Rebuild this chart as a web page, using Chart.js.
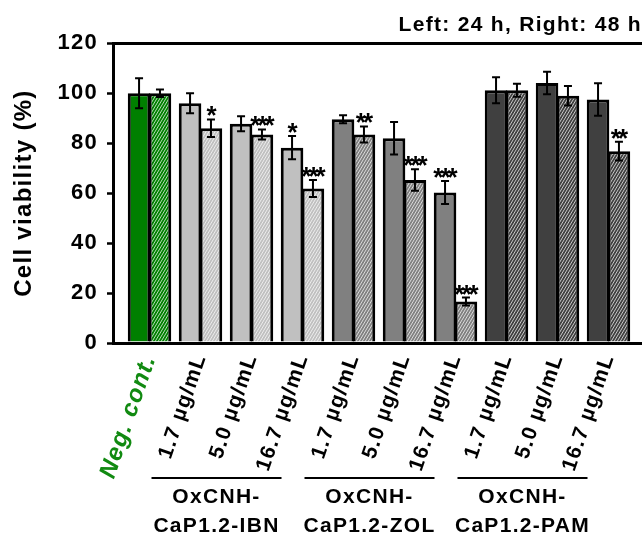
<!DOCTYPE html>
<html lang="en">
<head>
    <meta charset="UTF-8">
    <title>Cell viability</title>
    <script src="https://cdn.jsdelivr.net/npm/chart.js"></script>
    <style>
        body { margin: 0; background: #fff; overflow: hidden; }
    </style>
</head>
<body>
    <canvas id="viabilityChart" width="642" height="535"></canvas>
    <script>
        // values
        const labels = ['Neg. cont.', '1.7 µg/mL', '5.0 µg/mL', '16.7 µg/mL', '1.7 µg/mL', '5.0 µg/mL', '16.7 µg/mL', '1.7 µg/mL', '5.0 µg/mL', '16.7 µg/mL'];
        const v24 = [100, 96, 87.8, 78.2, 89.6, 82, 60.2, 101.2, 104.1, 97.5];
        const e24 = [6, 4, 3, 4.7, 1.6, 6.5, 4.6, 5.2, 4.5, 6.5];
        const v48 = [100, 86, 83.5, 61.8, 83.5, 65.2, 16.6, 101.2, 99, 76.8];
        const e48 = [1.5, 3.5, 2, 3.4, 3.2, 4.3, 1.6, 2.6, 3.9, 3.8];
        const sig24 = ['', '', '', '*', '', '', '***', '', '', ''];
        const sig48 = ['', '*', '***', '***', '**', '***', '***', '', '', '**'];
        const groupNames = [['OxCNH-', 'CaP1.2-IBN'], ['OxCNH-', 'CaP1.2-ZOL'], ['OxCNH-', 'CaP1.2-PAM']];
        const groupSpans = [[1, 3], [4, 6], [7, 9]];
        const yTicks = [0, 20, 40, 60, 80, 100, 120];

        const barColors = ['#007f00', '#c0c0c0', '#c0c0c0', '#c0c0c0', '#808080', '#808080', '#808080', '#404040', '#404040', '#404040'];
        const FONT = "'Liberation Sans', Arial, sans-serif";

        function hatch(color) {
            const c = document.createElement('canvas');
            c.width = 3; c.height = 5;
            const g = c.getContext('2d');
            g.fillStyle = color;
            g.fillRect(0, 0, 3, 5);
            g.strokeStyle = 'rgba(255,255,255,0.8)';
            g.lineWidth = 0.9;
            g.beginPath();
            g.moveTo(0, 5); g.lineTo(3, 0);
            g.moveTo(-3, 5); g.lineTo(0, 0);
            g.moveTo(3, 5); g.lineTo(6, 0);
            g.stroke();
            return g.createPattern(c, 'repeat');
        }

        const spacing = {
            id: 'spacing',
            beforeLayout(chart) { chart.ctx.letterSpacing = '1.3px'; },
            beforeDraw(chart) { chart.ctx.letterSpacing = '1.3px'; }
        };

        const extras = {
            id: 'extras',
            afterDatasetsDraw(chart) {
                const ctx = chart.ctx;
                const ys = chart.scales.y;
                const sets = [[v24, e24, sig24], [v48, e48, sig48]];
                ctx.save();
                ctx.strokeStyle = '#000';
                ctx.lineWidth = 2;
                sets.forEach(([vals, errs, sig], d) => {
                    const meta = chart.getDatasetMeta(d);
                    meta.data.forEach((bar, i) => {
                        const top = ys.getPixelForValue(vals[i] + errs[i]);
                        const bot = ys.getPixelForValue(vals[i] - errs[i]);
                        ctx.beginPath();
                        ctx.moveTo(bar.x, top); ctx.lineTo(bar.x, bot);
                        ctx.moveTo(bar.x - 4, top); ctx.lineTo(bar.x + 4, top);
                        ctx.moveTo(bar.x - 4, bot); ctx.lineTo(bar.x + 4, bot);
                        ctx.stroke();
                        if (sig[i]) {
                            ctx.letterSpacing = '-3px';
                            ctx.font = 'bold 26px ' + FONT;
                            ctx.fillStyle = '#000';
                            ctx.textAlign = 'center';
                            ctx.textBaseline = 'alphabetic';
                            ctx.fillText(sig[i], bar.x - 1, top + 5);
                        }
                    });
                });
                ctx.restore();
            },
            afterDraw(chart) {
                const ctx = chart.ctx;
                const xs = chart.scales.x;
                ctx.save();
                ctx.strokeStyle = '#000';
                ctx.lineWidth = 2;
                ctx.fillStyle = '#000';
                ctx.font = 'bold 21px ' + FONT;
                ctx.textAlign = 'center';
                ctx.textBaseline = 'alphabetic';
                groupSpans.forEach(([a, b], k) => {
                    const cx = (xs.getPixelForValue(a) + xs.getPixelForValue(b)) / 2 - 35;
                    ctx.beginPath();
                    ctx.moveTo(cx - 65, 478); ctx.lineTo(cx + 65, 478);
                    ctx.stroke();
                    ctx.fillText(groupNames[k][0], cx, 503);
                    ctx.fillText(groupNames[k][1], cx, 532);
                });
                ctx.restore();
            }
        };

        const ctx = document.getElementById('viabilityChart').getContext('2d');
        new Chart(ctx, {
            type: 'bar',
            data: {
                datasets: [{
                    label: '24 h',
                    data: v24.map((v, i) => ({ x: i, y: v })),
                    backgroundColor: barColors,
                    borderColor: '#000',
                    borderWidth: 3
                }, {
                    label: '48 h',
                    data: v48.map((v, i) => ({ x: i, y: v })),
                    backgroundColor: barColors.map(hatch),
                    borderColor: '#000',
                    borderWidth: 3
                }]
            },
            options: {
                responsive: false,
                animation: false,
                categoryPercentage: 0.82,
                barPercentage: 1.08,
                layout: { padding: 0 },
                plugins: {
                    legend: { display: false },
                    tooltip: { enabled: false },
                    title: {
                        display: true,
                        text: 'Left: 24 h, Right: 48 h',
                        align: 'end',
                        color: '#000',
                        font: { family: FONT, size: 21, weight: 'bold' },
                        padding: { top: 13, bottom: 5 }
                    }
                },
                scales: {
                    x: {
                        type: 'linear',
                        min: -0.716,
                        max: 9.657,
                        offset: false,
                        z: 1,
                        afterBuildTicks: s => { s.ticks = labels.map((_, i) => ({ value: i })); },
                        afterFit: s => { s.height = 192; },
                        grid: { display: false, drawTicks: false, offset: false },
                        border: { display: true, color: '#000', width: 3 },
                        ticks: {
                            autoSkip: false,
                            minRotation: 71,
                            maxRotation: 71,
                            padding: 8,
                            callback: v => labels[v],
                            color: c => c.index === 0 ? '#118a11' : '#000',
                            font: c => c.index === 0
                                ? { family: FONT, size: 24, weight: 'bold', style: 'italic' }
                                : { family: FONT, size: 21, weight: 'bold' }
                        }
                    },
                    y: {
                        min: 0,
                        max: 120,
                        z: 1,
                        afterBuildTicks: s => { s.ticks = yTicks.map(v => ({ value: v })); },
                        afterFit: s => { s.width = 113; },
                        grid: {
                            color: c => c.tick && c.tick.value === 120 ? '#000' : 'rgba(0,0,0,0)',
                            lineWidth: 3,
                            tickColor: '#000',
                            tickLength: 6,
                            tickWidth: 2.5
                        },
                        border: { display: true, color: '#000', width: 3 },
                        ticks: {
                            padding: 9,
                            color: '#000',
                            font: { family: FONT, size: 22, weight: 'bold' }
                        },
                        title: {
                            display: true,
                            text: 'Cell viability (%)',
                            color: '#000',
                            font: { family: FONT, size: 24, weight: 'bold' },
                            padding: { top: 10, bottom: 0 }
                        }
                    }
                }
            },
            plugins: [spacing, extras]
        });
    </script>
</body>
</html>
